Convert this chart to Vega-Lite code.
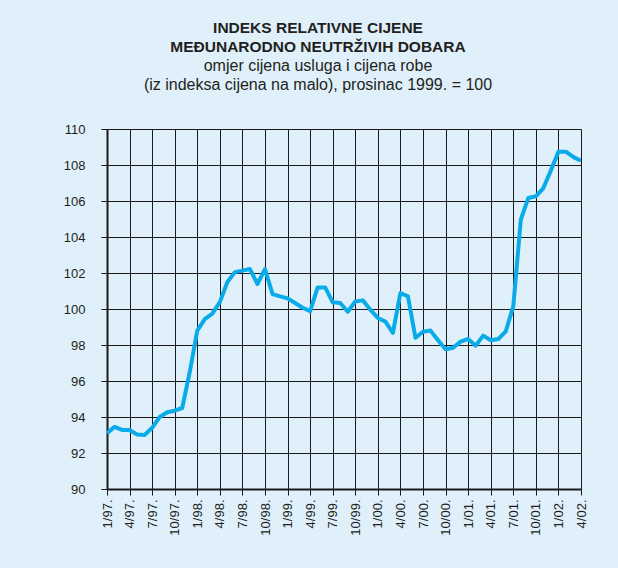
{
  "$schema": "https://vega.github.io/schema/vega-lite/v6.json",
  "width": 474,
  "height": 360,
  "autosize": {"type": "none"},
  "padding": {"left": 107, "top": 129, "right": 37, "bottom": 79},
  "background": "#dff0fa",
  "config": {
    "view": {"stroke": null},
    "font": "Liberation Sans"
  },
  "title": {
    "text": ["INDEKS RELATIVNE CIJENE", "MEĐUNARODNO NEUTRŽIVIH DOBARA"],
    "subtitle": ["omjer cijena usluga i cijena robe", "(iz indeksa cijena na malo), prosinac 1999. = 100"],
    "anchor": "middle",
    "dx": -26,
    "offset": 30,
    "font": "Liberation Sans",
    "fontSize": 15.5,
    "fontWeight": "bold",
    "color": "#231f20",
    "lineHeight": 19,
    "subtitleFont": "Liberation Sans",
    "subtitleFontSize": 16,
    "subtitleColor": "#231f20",
    "subtitleLineHeight": 19,
    "subtitlePadding": 3
  },
  "data": {
    "values": [
      {"m": "1/97.", "v": 93.1},
      {"m": "2/97.", "v": 93.45},
      {"m": "3/97.", "v": 93.28},
      {"m": "4/97.", "v": 93.28},
      {"m": "5/97.", "v": 93.03},
      {"m": "6/97.", "v": 93.0},
      {"m": "7/97.", "v": 93.4},
      {"m": "8/97.", "v": 94.0},
      {"m": "9/97.", "v": 94.26},
      {"m": "10/97.", "v": 94.35},
      {"m": "11/97.", "v": 94.5},
      {"m": "12/97.", "v": 96.5},
      {"m": "1/98.", "v": 98.8},
      {"m": "2/98.", "v": 99.44},
      {"m": "3/98.", "v": 99.74},
      {"m": "4/98.", "v": 100.38},
      {"m": "5/98.", "v": 101.5},
      {"m": "6/98.", "v": 102.05},
      {"m": "7/98.", "v": 102.13},
      {"m": "8/98.", "v": 102.22},
      {"m": "9/98.", "v": 101.39},
      {"m": "10/98.", "v": 102.22},
      {"m": "11/98.", "v": 100.83},
      {"m": "12/98.", "v": 100.7},
      {"m": "1/99.", "v": 100.59},
      {"m": "2/99.", "v": 100.33},
      {"m": "3/99.", "v": 100.07},
      {"m": "4/99.", "v": 99.88},
      {"m": "5/99.", "v": 101.2},
      {"m": "6/99.", "v": 101.2},
      {"m": "7/99.", "v": 100.37},
      {"m": "8/99.", "v": 100.33},
      {"m": "9/99.", "v": 99.85},
      {"m": "10/99.", "v": 100.42},
      {"m": "11/99.", "v": 100.48},
      {"m": "12/99.", "v": 99.96},
      {"m": "1/00.", "v": 99.5},
      {"m": "2/00.", "v": 99.3},
      {"m": "3/00.", "v": 98.67},
      {"m": "4/00.", "v": 100.89},
      {"m": "5/00.", "v": 100.7},
      {"m": "6/00.", "v": 98.4},
      {"m": "7/00.", "v": 98.74},
      {"m": "8/00.", "v": 98.8},
      {"m": "9/00.", "v": 98.26},
      {"m": "10/00.", "v": 97.76},
      {"m": "11/00.", "v": 97.85},
      {"m": "12/00.", "v": 98.19},
      {"m": "1/01.", "v": 98.34},
      {"m": "2/01.", "v": 97.96},
      {"m": "3/01.", "v": 98.52},
      {"m": "4/01.", "v": 98.26},
      {"m": "5/01.", "v": 98.33},
      {"m": "6/01.", "v": 98.76},
      {"m": "7/01.", "v": 100.15},
      {"m": "8/01.", "v": 104.96},
      {"m": "9/01.", "v": 106.17},
      {"m": "10/01.", "v": 106.26},
      {"m": "11/01.", "v": 106.72},
      {"m": "12/01.", "v": 107.7},
      {"m": "1/02.", "v": 108.74},
      {"m": "2/02.", "v": 108.74},
      {"m": "3/02.", "v": 108.44},
      {"m": "4/02.", "v": 108.24}
    ]
  },
  "mark": {"type": "line", "color": "#0aabe9", "strokeWidth": 4, "strokeJoin": "round", "clip": true},
  "encoding": {
    "x": {
      "field": "m",
      "type": "ordinal",
      "sort": null,
      "scale": {"type": "point", "padding": 0},
      "axis": {
        "title": null,
        "values": ["1/97.", "4/97.", "7/97.", "10/97.", "1/98.", "4/98.", "7/98.", "10/98.", "1/99.", "4/99.", "7/99.", "10/99.", "1/00.", "4/00.", "7/00.", "10/00.", "1/01.", "4/01.", "7/01.", "10/01.", "1/02.", "4/02."],
        "grid": true,
        "gridColor": "#1a1a1a",
        "gridWidth": 1,
        "gridOpacity": 1,
        "domain": true,
        "domainColor": "#1a1a1a",
        "domainWidth": 2,
        "ticks": true,
        "tickSize": 6,
        "tickColor": "#1a1a1a",
        "tickWidth": 1,
        "labelAngle": 270,
        "labelAlign": "right",
        "labelBaseline": "middle",
        "labelPadding": 4,
        "labelFont": "Liberation Sans",
        "labelFontSize": 13,
        "labelColor": "#231f20",
        "labelFlush": false,
        "labelOverlap": false
      }
    },
    "y": {
      "field": "v",
      "type": "quantitative",
      "scale": {"domain": [90, 110], "nice": false, "zero": false},
      "axis": {
        "title": null,
        "values": [90, 92, 94, 96, 98, 100, 102, 104, 106, 108, 110],
        "grid": true,
        "gridColor": "#1a1a1a",
        "gridWidth": 1,
        "gridOpacity": 1,
        "domain": true,
        "domainColor": "#1a1a1a",
        "domainWidth": 2,
        "ticks": true,
        "tickSize": 6,
        "tickColor": "#1a1a1a",
        "tickWidth": 1,
        "labelPadding": 16,
        "labelFont": "Liberation Sans",
        "labelFontSize": 13,
        "labelColor": "#231f20",
        "labelFlush": false,
        "labelOverlap": false
      }
    }
  }
}
